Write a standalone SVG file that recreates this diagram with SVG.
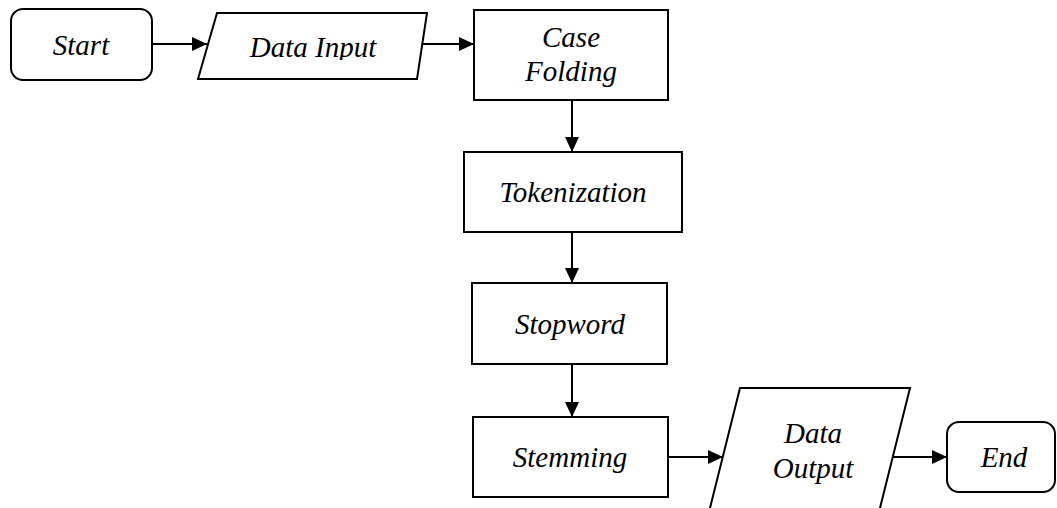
<svg xmlns="http://www.w3.org/2000/svg" width="1057" height="508" viewBox="0 0 1057 508">
  <style>
    .shape { fill: #ffffff; stroke: #000000; stroke-width: 2; }
    .label { font-family: "Liberation Serif", "Times New Roman", serif; font-style: italic; font-size: 29px; fill: #000000; text-anchor: middle; }
    .edge { fill: none; stroke: #000000; stroke-width: 2; }
  </style>
  <defs>
    <marker id="arrow" markerUnits="userSpaceOnUse" markerWidth="16" markerHeight="16" refX="15" refY="7" orient="auto">
      <path d="M0,0 L15,7 L0,14 Z" fill="#000000"/>
    </marker>
    <!-- the input label sits low in its box and is cut at the baseline -->
    <clipPath id="clip-input">
      <rect x="190" y="0" width="250" height="60"/>
    </clipPath>
  </defs>

  <g id="connectors">
    <line class="edge" x1="152" y1="44" x2="207" y2="44" marker-end="url(#arrow)"/>
    <line class="edge" x1="422" y1="44" x2="474" y2="44" marker-end="url(#arrow)"/>
    <line class="edge" x1="572" y1="100" x2="572" y2="152" marker-end="url(#arrow)"/>
    <line class="edge" x1="572" y1="232" x2="572" y2="283" marker-end="url(#arrow)"/>
    <line class="edge" x1="572" y1="364" x2="572" y2="417" marker-end="url(#arrow)"/>
    <line class="edge" x1="668" y1="457" x2="723" y2="457" marker-end="url(#arrow)"/>
    <line class="edge" x1="893" y1="457" x2="947" y2="457" marker-end="url(#arrow)"/>
  </g>

  <g id="start">
    <rect class="shape" x="11" y="9" width="141" height="71" rx="12" ry="12"/>
    <text class="label" x="81" y="55">Start</text>
  </g>

  <g id="data-input">
    <polygon class="shape" points="217,13 427,13 417,79 198,79"/>
    <text class="label" x="313" y="57" clip-path="url(#clip-input)">Data Input</text>
  </g>

  <g id="case-folding">
    <rect class="shape" x="474" y="10" width="194" height="90"/>
    <text class="label" x="571" y="47">Case</text>
    <text class="label" x="571" y="81">Folding</text>
  </g>

  <g id="tokenization">
    <rect class="shape" x="464" y="152" width="218" height="80"/>
    <text class="label" x="573" y="202">Tokenization</text>
  </g>

  <g id="stopword">
    <rect class="shape" x="472" y="283" width="195" height="81"/>
    <text class="label" x="570" y="334">Stopword</text>
  </g>

  <g id="stemming">
    <rect class="shape" x="473" y="417" width="195" height="80"/>
    <text class="label" x="570" y="467">Stemming</text>
  </g>

  <g id="data-output">
    <polygon class="shape" points="740,388 910,388 879,512 709,512"/>
    <text class="label" x="813" y="443">Data</text>
    <text class="label" x="813" y="478">Output</text>
  </g>

  <g id="end">
    <rect class="shape" x="947" y="422" width="108" height="70" rx="12" ry="12"/>
    <text class="label" x="1004" y="467">End</text>
  </g>
</svg>
